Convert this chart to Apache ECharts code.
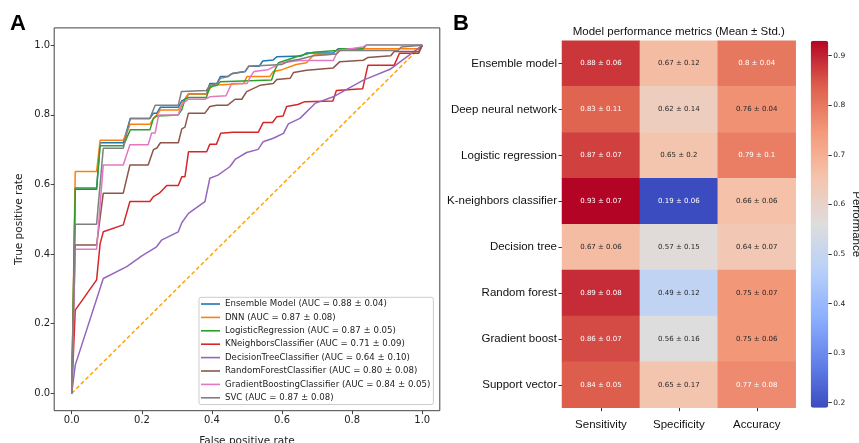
<!DOCTYPE html>
<html><head><meta charset="utf-8">
<script src="https://cdn.jsdelivr.net/npm/echarts@6/dist/echarts.min.js"></script>
<style>html,body{margin:0;padding:0;background:#fff}#c{width:859px;height:443px}</style>
</head><body><div id="c"></div>
<script>
// ---------- Panel A: ROC curves (fpr, tpr) ----------
const rocNames = [
  'Ensemble Model (AUC = 0.88 ± 0.04)',
  'DNN (AUC = 0.87 ± 0.08)',
  'LogisticRegression (AUC = 0.87 ± 0.05)',
  'KNeighborsClassifier (AUC = 0.71 ± 0.09)',
  'DecisionTreeClassifier (AUC = 0.64 ± 0.10)',
  'RandomForestClassifier (AUC = 0.80 ± 0.08)',
  'GradientBoostingClassifier (AUC = 0.84 ± 0.05)',
  'SVC (AUC = 0.87 ± 0.08)'
];
const ensembleRoc = [[0,0],[0.01,0.586],[0.071,0.586],[0.081,0.72],[0.147,0.72],[0.167,0.79],[0.223,0.79],[0.233,0.805],[0.243,0.805],[0.253,0.822],[0.304,0.822],[0.314,0.84],[0.323,0.845],[0.333,0.86],[0.384,0.86],[0.394,0.89],[0.414,0.89],[0.424,0.91],[0.445,0.91],[0.456,0.918],[0.495,0.925],[0.505,0.94],[0.535,0.94],[0.545,0.955],[0.575,0.958],[0.585,0.967],[0.655,0.969],[0.67,0.978],[0.746,0.978],[0.76,0.99],[0.83,0.99],[0.84,1.0],[1,1]];
const dnnRoc = [[0,0],[0.01,0.637],[0.071,0.637],[0.081,0.727],[0.147,0.727],[0.167,0.773],[0.223,0.773],[0.233,0.79],[0.243,0.80],[0.253,0.814],[0.304,0.814],[0.314,0.83],[0.333,0.86],[0.384,0.86],[0.394,0.875],[0.404,0.885],[0.49,0.89],[0.5,0.91],[0.565,0.91],[0.575,0.925],[0.6,0.93],[0.64,0.945],[0.67,0.95],[0.69,0.972],[0.755,0.975],[0.765,0.985],[0.84,0.99],[0.99,0.99],[1,1]];
const logisticRoc = [[0,0],[0.01,0.59],[0.071,0.59],[0.081,0.711],[0.147,0.711],[0.167,0.757],[0.223,0.757],[0.233,0.79],[0.243,0.797],[0.304,0.80],[0.314,0.815],[0.323,0.845],[0.333,0.85],[0.384,0.85],[0.394,0.88],[0.414,0.885],[0.424,0.895],[0.57,0.90],[0.58,0.93],[0.59,0.95],[0.62,0.96],[0.65,0.97],[0.69,0.98],[0.756,0.985],[0.766,0.99],[0.83,0.99],[0.84,1.0],[1,1]];
const kneighborsRoc = [[0,0],[0.01,0.239],[0.071,0.326],[0.081,0.43],[0.09,0.464],[0.147,0.484],[0.166,0.551],[0.223,0.551],[0.233,0.565],[0.25,0.575],[0.271,0.597],[0.304,0.597],[0.314,0.622],[0.323,0.622],[0.333,0.694],[0.385,0.694],[0.394,0.716],[0.413,0.716],[0.425,0.747],[0.46,0.75],[0.532,0.75],[0.546,0.778],[0.573,0.778],[0.585,0.795],[0.603,0.797],[0.613,0.824],[0.645,0.83],[0.665,0.838],[0.745,0.84],[0.755,0.87],[0.83,0.875],[0.845,0.943],[0.92,0.943],[0.935,0.977],[0.99,0.977],[1,1]];
const decisionTreeRoc = [[0,0],[0.01,0.081],[0.09,0.33],[0.157,0.364],[0.2,0.395],[0.242,0.421],[0.256,0.44],[0.304,0.464],[0.314,0.49],[0.333,0.517],[0.38,0.551],[0.394,0.618],[0.417,0.627],[0.451,0.651],[0.466,0.672],[0.499,0.692],[0.532,0.701],[0.546,0.723],[0.575,0.733],[0.604,0.747],[0.618,0.774],[0.651,0.79],[0.694,0.833],[0.746,0.852],[0.832,0.90],[0.908,0.931],[1,1]];
const randomForestRoc = [[0,0],[0.01,0.426],[0.071,0.426],[0.09,0.575],[0.147,0.575],[0.166,0.656],[0.218,0.656],[0.233,0.70],[0.243,0.705],[0.253,0.72],[0.304,0.72],[0.314,0.76],[0.323,0.765],[0.333,0.805],[0.38,0.805],[0.394,0.824],[0.413,0.828],[0.445,0.828],[0.466,0.845],[0.485,0.845],[0.499,0.867],[0.537,0.885],[0.575,0.89],[0.585,0.902],[0.623,0.905],[0.633,0.922],[0.67,0.928],[0.746,0.935],[0.765,0.953],[0.832,0.957],[0.845,0.965],[0.91,0.97],[0.92,0.982],[0.99,0.982],[1,1]];
const gradientBoostingRoc = [[0,0],[0.01,0.414],[0.071,0.414],[0.09,0.656],[0.147,0.656],[0.166,0.714],[0.218,0.714],[0.228,0.748],[0.238,0.748],[0.248,0.80],[0.304,0.80],[0.314,0.83],[0.333,0.845],[0.38,0.845],[0.394,0.852],[0.44,0.855],[0.456,0.89],[0.5,0.89],[0.51,0.91],[0.52,0.925],[0.56,0.93],[0.6,0.95],[0.65,0.956],[0.746,0.956],[0.76,0.985],[0.83,0.995],[0.84,1.0],[1,1]];
const svcRoc = [[0,0],[0.01,0.486],[0.071,0.486],[0.09,0.704],[0.147,0.704],[0.167,0.79],[0.223,0.79],[0.238,0.828],[0.304,0.828],[0.313,0.867],[0.384,0.87],[0.394,0.885],[0.414,0.89],[0.424,0.905],[0.445,0.91],[0.46,0.92],[0.495,0.925],[0.505,0.94],[0.6,0.945],[0.62,0.955],[0.65,0.96],[0.69,0.97],[0.755,0.975],[0.765,0.985],[0.93,0.985],[0.94,0.995],[1,1]];
const chanceLine = [[0,0],[1,1]];
const rocTicks = [0, 0.2, 0.4, 0.6, 0.8, 1.0];

// ---------- Panel B: heatmap ----------
const models = ['Ensemble model','Deep neural network','Logistic regression','K-neighbors classifier','Decision tree','Random forest','Gradient boost','Support vector'];
const metrics = ['Sensitivity','Specificity','Accuracy'];
const sensitivityMean = [0.88,0.83,0.87,0.93,0.67,0.89,0.86,0.84];
const sensitivityStd  = [0.06,0.11,0.07,0.07,0.06,0.08,0.07,0.05];
const specificityMean = [0.67,0.62,0.65,0.19,0.57,0.49,0.56,0.65];
const specificityStd  = [0.12,0.14,0.2,0.06,0.15,0.12,0.16,0.17];
const accuracyMean    = [0.8,0.76,0.79,0.66,0.64,0.75,0.75,0.77];
const accuracyStd     = [0.04,0.04,0.1,0.06,0.07,0.07,0.06,0.08];
const colorbarTicks = [0.2,0.3,0.4,0.5,0.6,0.7,0.8,0.9];

// ---------- styles ----------
const rocColors = ['#1f77b4','#ff7f0e','#2ca02c','#d62728','#9467bd','#8c564b','#e377c2','#7f7f7f'];
const coolwarm = ['#3b4cc0','#6282ea','#8db0fe','#b8d0f9','#dddddd','#f5c4ad','#f49a7b','#de604d','#b40426'];
const DV = 'DejaVu Sans';
const LS = 'Liberation Sans, Arial';

const means = [sensitivityMean, specificityMean, accuracyMean];
const stds = [sensitivityStd, specificityStd, accuracyStd];
const allVals = means.flat();
const vmin = Math.min(...allVals), vmax = Math.max(...allVals);

function hex2rgb(h){return [parseInt(h.slice(1,3),16),parseInt(h.slice(3,5),16),parseInt(h.slice(5,7),16)];}
function cmap(v){
  let t=(v-vmin)/(vmax-vmin); t=Math.max(0,Math.min(1,t));
  const n=coolwarm.length-1, p=t*n, i=Math.min(n-1,Math.floor(p)), f=p-i;
  const a=hex2rgb(coolwarm[i]), b=hex2rgb(coolwarm[i+1]);
  return a.map((x,k)=>x+(b[k]-x)*f);
}
function lum(rgb){const l=c=>{c/=255;return c<=0.03928?c/12.92:Math.pow((c+0.055)/1.055,2.4)};return 0.2126*l(rgb[0])+0.7152*l(rgb[1])+0.0722*l(rgb[2]);}

const heatData = [];
for (let c=0;c<metrics.length;c++){
  for (let r=0;r<models.length;r++){
    const v=means[c][r];
    heatData.push({value:[c,r,v], label:{color: lum(cmap(v))>0.398?'#262626':'#ffffff'}});
  }
}

const rocData = [ensembleRoc,dnnRoc,logisticRoc,kneighborsRoc,decisionTreeRoc,randomForestRoc,gradientBoostingRoc,svcRoc];

const series = [{
  type:'line', xAxisIndex:0, yAxisIndex:0, data:chanceLine, symbol:'none', silent:true,
  lineStyle:{color:'#ffa500', width:1.5, type:[4,2.5]}, z:1
}];
rocData.forEach((d,i)=>series.push({
  type:'line', name:rocNames[i], xAxisIndex:0, yAxisIndex:0, data:d, symbol:'none',
  lineStyle:{color:rocColors[i], width:1.5}, itemStyle:{color:rocColors[i]}, z:2+i
}));
series.push({
  type:'heatmap', xAxisIndex:1, yAxisIndex:1,
  data: heatData,
  label:{show:true, fontFamily:DV, fontSize:7,
    formatter:p=>{const c=p.value[0], r=p.value[1]; return String(means[c][r])+' ± '+String(stds[c][r]);}}
});
const heatIdx = series.length-1;
series.push({type:'scatter', xAxisIndex:2, yAxisIndex:2, data:[]});

const option = {
  animation:false,
  backgroundColor:'#fff',
  graphic:[
    {type:'text', x:10, y:23.5, style:{text:'A', font:'bold 22px "Liberation Sans"', fill:'#000', textVerticalAlign:'middle'}},
    {type:'text', x:453, y:23.5, style:{text:'B', font:'bold 22px "Liberation Sans"', fill:'#000', textVerticalAlign:'middle'}},
    {type:'text', x:678.8, y:32, style:{text:'Model performance metrics (Mean ± Std.)', font:'11.5px "Liberation Sans"', fill:'#111', textAlign:'center', textVerticalAlign:'middle'}}
  ],
  grid:[
    {left:54.2, top:27.9, width:385.6, height:382.8, show:true, borderColor:'#444', borderWidth:1, backgroundColor:'#fff', outerBoundsMode:'none', containLabel:false},
    {left:562, top:40.7, width:233.7, height:367, outerBoundsMode:'none', containLabel:false},
    {left:810.7, top:40.7, width:17.6, height:367, outerBoundsMode:'none', containLabel:false}
  ],
  xAxis:[
    {type:'value', gridIndex:0, min:-0.05, max:1.05, position:'bottom',
      axisLine:{show:false, onZero:false}, splitLine:{show:false},
      axisTick:{show:true, customValues:rocTicks, length:3.5, lineStyle:{color:'#444'}},
      axisLabel:{customValues:rocTicks, formatter:v=>v.toFixed(1), fontFamily:DV, fontSize:10, color:'#222', margin:5},
      name:'False positive rate', nameLocation:'middle', nameGap:25,
      nameTextStyle:{fontFamily:DV, fontSize:10.5, color:'#222'}},
    {type:'category', gridIndex:1, data:metrics, position:'bottom',
      axisLine:{show:false}, splitLine:{show:false},
      axisTick:{show:true, alignWithLabel:true, length:3.5, lineStyle:{color:'#333'}},
      axisLabel:{fontFamily:LS, fontSize:11.5, color:'#111', margin:11}},
    {type:'value', gridIndex:2, show:false, min:0, max:1}
  ],
  yAxis:[
    {type:'value', gridIndex:0, min:-0.05, max:1.05, position:'left',
      axisLine:{show:false, onZero:false}, splitLine:{show:false},
      axisTick:{show:true, customValues:rocTicks, length:3.5, lineStyle:{color:'#444'}},
      axisLabel:{customValues:rocTicks, formatter:v=>v.toFixed(1), fontFamily:DV, fontSize:10, color:'#222', margin:4},
      name:'True positive rate', nameLocation:'middle', nameGap:29,
      nameTextStyle:{fontFamily:DV, fontSize:10.5, color:'#222'}},
    {type:'category', gridIndex:1, data:models, inverse:true,
      axisLine:{show:false}, splitLine:{show:false},
      axisTick:{show:true, alignWithLabel:true, length:3.5, lineStyle:{color:'#333'}},
      axisLabel:{fontFamily:LS, fontSize:11.5, color:'#111', margin:5}},
    {type:'value', gridIndex:2, min:vmin, max:vmax, position:'right',
      axisLine:{show:false, onZero:false}, splitLine:{show:false},
      axisTick:{show:true, customValues:colorbarTicks, length:3.5, lineStyle:{color:'#333'}},
      axisLabel:{customValues:colorbarTicks, formatter:v=>v.toFixed(1), fontFamily:DV, fontSize:7.5, color:'#222', margin:5},
      name:'Performance', nameLocation:'middle', nameRotate:-90, nameGap:22,
      nameTextStyle:{fontFamily:LS, fontSize:11.5, color:'#111'}}
  ],
  visualMap:{
    type:'continuous', min:vmin, max:vmax, seriesIndex:heatIdx, calculable:false,
    inRange:{color:coolwarm}, left:810.7, top:40.7, itemWidth:17.6, itemHeight:367,
    padding:0, text:null, hoverLink:false, z:1
  },
  legend:{
    data:rocNames, orient:'vertical', left:199, top:297.3,
    icon:'rect', itemWidth:19, itemHeight:1.6, itemGap:2,
    padding:[1,3,1,2],
    backgroundColor:'rgba(255,255,255,0.8)', borderColor:'#cccccc', borderWidth:1, borderRadius:2,
    textStyle:{fontFamily:DV, fontSize:8.6, color:'#222', lineHeight:11.4},
    selectedMode:false
  },
  series: series
};
const chart = echarts.init(document.getElementById('c'), null, {renderer:'canvas'});
chart.setOption(option);
</script></body></html>
